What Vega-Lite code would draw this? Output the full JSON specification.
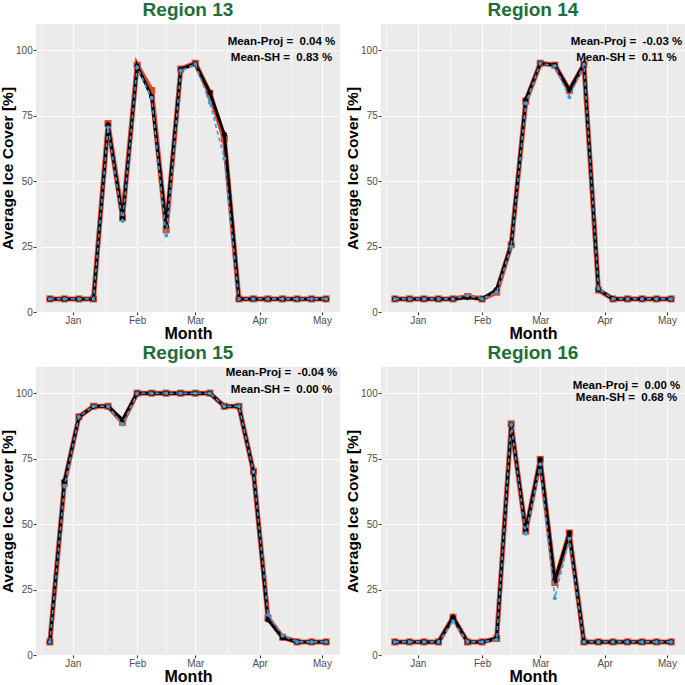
{
  "$schema": "https://vega.github.io/schema/vega-lite/v6.json",
  "background": "white",
  "padding": {"left": 0, "top": 1, "right": 0, "bottom": 0},
  "datasets": {
    "d": [
      {"region":"Region 13","kind":"s","date":"2018-12-21","proj":5,"obs":5,"sh":5},
      {"region":"Region 13","kind":"s","date":"2018-12-28","proj":5,"obs":5,"sh":5},
      {"region":"Region 13","kind":"s","date":"2019-01-04","proj":5,"obs":5,"sh":5},
      {"region":"Region 13","kind":"s","date":"2019-01-11","proj":5,"obs":5,"sh":5},
      {"region":"Region 13","kind":"s","date":"2019-01-18","proj":72,"obs":71.6,"sh":70.5},
      {"region":"Region 13","kind":"s","date":"2019-01-25","proj":36,"obs":35.8,"sh":34.8},
      {"region":"Region 13","kind":"s","date":"2019-02-01","proj":94.3,"obs":94,"sh":93.5},
      {"region":"Region 13","kind":"s","date":"2019-02-08","proj":84.6,"obs":82.3,"sh":81.8},
      {"region":"Region 13","kind":"s","date":"2019-02-15","proj":31.4,"obs":32.7,"sh":29.2},
      {"region":"Region 13","kind":"s","date":"2019-02-22","proj":92.8,"obs":92.8,"sh":92.2},
      {"region":"Region 13","kind":"s","date":"2019-03-01","proj":95,"obs":94.9,"sh":94.7},
      {"region":"Region 13","kind":"s","date":"2019-03-08","proj":83.5,"obs":83.9,"sh":80},
      {"region":"Region 13","kind":"s","date":"2019-03-15","proj":66.2,"obs":67.8,"sh":58.6},
      {"region":"Region 13","kind":"s","date":"2019-03-22","proj":5,"obs":5,"sh":5},
      {"region":"Region 13","kind":"s","date":"2019-03-29","proj":5,"obs":5,"sh":5},
      {"region":"Region 13","kind":"s","date":"2019-04-05","proj":5,"obs":5,"sh":5},
      {"region":"Region 13","kind":"s","date":"2019-04-12","proj":5,"obs":5,"sh":5},
      {"region":"Region 13","kind":"s","date":"2019-04-19","proj":5,"obs":5,"sh":5},
      {"region":"Region 13","kind":"s","date":"2019-04-26","proj":5,"obs":5,"sh":5},
      {"region":"Region 13","kind":"s","date":"2019-05-03","proj":5,"obs":5,"sh":5},
      {"region":"Region 14","kind":"s","date":"2018-12-21","proj":5,"obs":5,"sh":5},
      {"region":"Region 14","kind":"s","date":"2018-12-28","proj":5,"obs":5,"sh":5},
      {"region":"Region 14","kind":"s","date":"2019-01-04","proj":5,"obs":5,"sh":5},
      {"region":"Region 14","kind":"s","date":"2019-01-11","proj":5,"obs":5,"sh":5},
      {"region":"Region 14","kind":"s","date":"2019-01-18","proj":5,"obs":5,"sh":5},
      {"region":"Region 14","kind":"s","date":"2019-01-25","proj":5.9,"obs":5.6,"sh":6.3},
      {"region":"Region 14","kind":"s","date":"2019-02-01","proj":5,"obs":5,"sh":5},
      {"region":"Region 14","kind":"s","date":"2019-02-08","proj":7.6,"obs":8.6,"sh":7.6},
      {"region":"Region 14","kind":"s","date":"2019-02-15","proj":25.7,"obs":25.7,"sh":25},
      {"region":"Region 14","kind":"s","date":"2019-02-22","proj":80.5,"obs":81,"sh":79.7},
      {"region":"Region 14","kind":"s","date":"2019-03-01","proj":95,"obs":95,"sh":95},
      {"region":"Region 14","kind":"s","date":"2019-03-08","proj":94.3,"obs":94.3,"sh":94},
      {"region":"Region 14","kind":"s","date":"2019-03-15","proj":84.6,"obs":84.8,"sh":82},
      {"region":"Region 14","kind":"s","date":"2019-03-22","proj":94.5,"obs":94.7,"sh":94.5},
      {"region":"Region 14","kind":"s","date":"2019-03-29","proj":8.4,"obs":8.6,"sh":8.9},
      {"region":"Region 14","kind":"s","date":"2019-04-05","proj":5,"obs":5,"sh":5},
      {"region":"Region 14","kind":"s","date":"2019-04-12","proj":5,"obs":5,"sh":5},
      {"region":"Region 14","kind":"s","date":"2019-04-19","proj":5,"obs":5,"sh":5},
      {"region":"Region 14","kind":"s","date":"2019-04-26","proj":5,"obs":5,"sh":5},
      {"region":"Region 14","kind":"s","date":"2019-05-03","proj":5,"obs":5,"sh":5},
      {"region":"Region 15","kind":"s","date":"2018-12-21","proj":5,"obs":5,"sh":5},
      {"region":"Region 15","kind":"s","date":"2018-12-28","proj":65.7,"obs":66.3,"sh":64.6},
      {"region":"Region 15","kind":"s","date":"2019-01-04","proj":91,"obs":90.9,"sh":91},
      {"region":"Region 15","kind":"s","date":"2019-01-11","proj":95,"obs":95,"sh":95},
      {"region":"Region 15","kind":"s","date":"2019-01-18","proj":95,"obs":95,"sh":95},
      {"region":"Region 15","kind":"s","date":"2019-01-25","proj":88.9,"obs":89.9,"sh":88},
      {"region":"Region 15","kind":"s","date":"2019-02-01","proj":100,"obs":100,"sh":100},
      {"region":"Region 15","kind":"s","date":"2019-02-08","proj":100,"obs":100,"sh":100},
      {"region":"Region 15","kind":"s","date":"2019-02-15","proj":100,"obs":100,"sh":100},
      {"region":"Region 15","kind":"s","date":"2019-02-22","proj":100,"obs":100,"sh":100},
      {"region":"Region 15","kind":"s","date":"2019-03-01","proj":100,"obs":100,"sh":100},
      {"region":"Region 15","kind":"s","date":"2019-03-08","proj":100,"obs":100,"sh":100},
      {"region":"Region 15","kind":"s","date":"2019-03-15","proj":95,"obs":95,"sh":95},
      {"region":"Region 15","kind":"s","date":"2019-03-22","proj":95,"obs":95,"sh":95},
      {"region":"Region 15","kind":"s","date":"2019-03-29","proj":70,"obs":70,"sh":70},
      {"region":"Region 15","kind":"s","date":"2019-04-05","proj":14.1,"obs":13.5,"sh":15.4},
      {"region":"Region 15","kind":"s","date":"2019-04-12","proj":6.8,"obs":6.6,"sh":7.4},
      {"region":"Region 15","kind":"s","date":"2019-04-19","proj":5,"obs":5,"sh":5},
      {"region":"Region 15","kind":"s","date":"2019-04-26","proj":5,"obs":5,"sh":5},
      {"region":"Region 15","kind":"s","date":"2019-05-03","proj":5,"obs":5,"sh":5},
      {"region":"Region 16","kind":"s","date":"2018-12-21","proj":5,"obs":5,"sh":5},
      {"region":"Region 16","kind":"s","date":"2018-12-28","proj":5,"obs":5,"sh":5},
      {"region":"Region 16","kind":"s","date":"2019-01-04","proj":5,"obs":5,"sh":5},
      {"region":"Region 16","kind":"s","date":"2019-01-11","proj":5,"obs":5,"sh":5},
      {"region":"Region 16","kind":"s","date":"2019-01-18","proj":14.4,"obs":14.4,"sh":12.9},
      {"region":"Region 16","kind":"s","date":"2019-01-25","proj":5,"obs":5,"sh":5},
      {"region":"Region 16","kind":"s","date":"2019-02-01","proj":5,"obs":5,"sh":5},
      {"region":"Region 16","kind":"s","date":"2019-02-08","proj":6.3,"obs":6.3,"sh":5.9},
      {"region":"Region 16","kind":"s","date":"2019-02-15","proj":88.3,"obs":88,"sh":88},
      {"region":"Region 16","kind":"s","date":"2019-02-22","proj":47.3,"obs":47.6,"sh":46.3},
      {"region":"Region 16","kind":"s","date":"2019-03-01","proj":74.7,"obs":74.7,"sh":72.9},
      {"region":"Region 16","kind":"s","date":"2019-03-08","proj":27.7,"obs":28.4,"sh":21.7},
      {"region":"Region 16","kind":"s","date":"2019-03-15","proj":46.6,"obs":46.6,"sh":44.4},
      {"region":"Region 16","kind":"s","date":"2019-03-22","proj":5,"obs":5,"sh":5},
      {"region":"Region 16","kind":"s","date":"2019-03-29","proj":5,"obs":5,"sh":5},
      {"region":"Region 16","kind":"s","date":"2019-04-05","proj":5,"obs":5,"sh":5},
      {"region":"Region 16","kind":"s","date":"2019-04-12","proj":5,"obs":5,"sh":5},
      {"region":"Region 16","kind":"s","date":"2019-04-19","proj":5,"obs":5,"sh":5},
      {"region":"Region 16","kind":"s","date":"2019-04-26","proj":5,"obs":5,"sh":5},
      {"region":"Region 16","kind":"s","date":"2019-05-03","proj":5,"obs":5,"sh":5},
      {"region":"Region 13","kind":"n","date":"2019-04-11T12:00:00Z","ny":103,"label":"Mean-Proj = \u00a00.04 %"},
      {"region":"Region 13","kind":"n","date":"2019-04-11T12:00:00Z","ny":97,"label":"Mean-SH = \u00a00.83 %"},
      {"region":"Region 14","kind":"n","date":"2019-04-11T12:00:00Z","ny":103,"label":"Mean-Proj = \u00a0-0.03 %"},
      {"region":"Region 14","kind":"n","date":"2019-04-11T12:00:00Z","ny":97,"label":"Mean-SH = \u00a00.11 %"},
      {"region":"Region 15","kind":"n","date":"2019-04-11T12:00:00Z","ny":107.7,"label":"Mean-Proj = \u00a0-0.04 %"},
      {"region":"Region 15","kind":"n","date":"2019-04-11T12:00:00Z","ny":101.4,"label":"Mean-SH = \u00a00.00 %"},
      {"region":"Region 16","kind":"n","date":"2019-04-11T12:00:00Z","ny":102.8,"label":"Mean-Proj = \u00a00.00 %"},
      {"region":"Region 16","kind":"n","date":"2019-04-11T12:00:00Z","ny":98.2,"label":"Mean-SH = \u00a00.68 %"}
    ]
  },
  "data": {"name": "d"},
  "vconcat": [
    {"hconcat": [
      {"width": 304, "height": 288, "title": "Region 13",
       "transform": [{"filter": "datum.region == 'Region 13'"}],
       "encoding": {"x": {"field": "date", "type": "temporal", "title": "Month",
          "scale": {"type": "utc", "domain": [{"year": 2018, "month": 12, "date": 14, "hours": 8, "utc": true}, {"year": 2019, "month": 5, "date": 9, "hours": 16, "utc": true}]},
          "axis": {"values": [{"year": 2018, "month": 12, "date": 16, "hours": 12, "utc": true}, {"year": 2019, "month": 1, "date": 1, "utc": true}, {"year": 2019, "month": 1, "date": 16, "hours": 12, "utc": true}, {"year": 2019, "month": 2, "date": 1, "utc": true}, {"year": 2019, "month": 2, "date": 15, "utc": true}, {"year": 2019, "month": 3, "date": 1, "utc": true}, {"year": 2019, "month": 3, "date": 16, "hours": 12, "utc": true}, {"year": 2019, "month": 4, "date": 1, "utc": true}, {"year": 2019, "month": 4, "date": 16, "utc": true}, {"year": 2019, "month": 5, "date": 1, "utc": true}],
            "labelExpr": "utcdate(datum.value) == 1 ? utcFormat(datum.value, '%b') : ''",
            "gridWidth": {"condition": {"test": "utcdate(datum.value) == 1", "value": 1.1}, "value": 0.5},
            "tickOpacity": {"condition": {"test": "utcdate(datum.value) == 1", "value": 1}, "value": 0}}}},
       "layer": [
        {"transform": [{"filter": "datum.kind == 's'"}],
         "layer": [
          {"mark": {"type": "line", "color": "#E5442C", "strokeWidth": 5}, "encoding": {"y": {"field": "proj", "type": "quantitative", "title": "Average Ice Cover [%]", "scale": {"domain": [0, 110]}, "axis": {"values": [0, 12.5, 25, 37.5, 50, 62.5, 75, 87.5, 100], "labelExpr": "datum.value % 25 == 0 ? datum.label : ''", "gridWidth": {"condition": {"test": "datum.value % 25 == 0", "value": 1.1}, "value": 0.5}, "tickOpacity": {"condition": {"test": "datum.value % 25 == 0", "value": 1}, "value": 0}}}}},
          {"mark": {"type": "point", "shape": "square", "filled": true, "color": "#E5442C", "size": 50, "opacity": 1}, "encoding": {"y": {"field": "proj", "type": "quantitative"}}},
          {"mark": {"type": "line", "color": "black", "strokeWidth": 3}, "encoding": {"y": {"field": "obs", "type": "quantitative"}}},
          {"mark": {"type": "point", "shape": "circle", "filled": true, "color": "black", "size": 28, "opacity": 1}, "encoding": {"y": {"field": "obs", "type": "quantitative"}}},
          {"mark": {"type": "line", "color": "#3A9FD6", "strokeWidth": 1.6, "strokeDash": [4, 3]}, "encoding": {"y": {"field": "sh", "type": "quantitative"}}},
          {"mark": {"type": "point", "shape": "circle", "filled": true, "color": "#3A9FD6", "size": 16, "opacity": 1}, "encoding": {"y": {"field": "sh", "type": "quantitative"}}}
         ]},
        {"transform": [{"filter": "datum.kind == 'n'"}],
         "mark": {"type": "text", "font": "Liberation Sans", "fontWeight": "bold", "fontSize": 11.5, "align": "center", "baseline": "middle", "color": "black"},
         "encoding": {"y": {"field": "ny", "type": "quantitative"}, "text": {"field": "label"}}}
       ]},
      {"width": 304, "height": 288, "title": "Region 14",
       "transform": [{"filter": "datum.region == 'Region 14'"}],
       "encoding": {"x": {"field": "date", "type": "temporal", "title": "Month",
          "scale": {"type": "utc", "domain": [{"year": 2018, "month": 12, "date": 14, "hours": 8, "utc": true}, {"year": 2019, "month": 5, "date": 9, "hours": 16, "utc": true}]},
          "axis": {"values": [{"year": 2018, "month": 12, "date": 16, "hours": 12, "utc": true}, {"year": 2019, "month": 1, "date": 1, "utc": true}, {"year": 2019, "month": 1, "date": 16, "hours": 12, "utc": true}, {"year": 2019, "month": 2, "date": 1, "utc": true}, {"year": 2019, "month": 2, "date": 15, "utc": true}, {"year": 2019, "month": 3, "date": 1, "utc": true}, {"year": 2019, "month": 3, "date": 16, "hours": 12, "utc": true}, {"year": 2019, "month": 4, "date": 1, "utc": true}, {"year": 2019, "month": 4, "date": 16, "utc": true}, {"year": 2019, "month": 5, "date": 1, "utc": true}],
            "labelExpr": "utcdate(datum.value) == 1 ? utcFormat(datum.value, '%b') : ''",
            "gridWidth": {"condition": {"test": "utcdate(datum.value) == 1", "value": 1.1}, "value": 0.5},
            "tickOpacity": {"condition": {"test": "utcdate(datum.value) == 1", "value": 1}, "value": 0}}}},
       "layer": [
        {"transform": [{"filter": "datum.kind == 's'"}],
         "layer": [
          {"mark": {"type": "line", "color": "#E5442C", "strokeWidth": 5}, "encoding": {"y": {"field": "proj", "type": "quantitative", "title": "Average Ice Cover [%]", "scale": {"domain": [0, 110]}, "axis": {"values": [0, 12.5, 25, 37.5, 50, 62.5, 75, 87.5, 100], "labelExpr": "datum.value % 25 == 0 ? datum.label : ''", "gridWidth": {"condition": {"test": "datum.value % 25 == 0", "value": 1.1}, "value": 0.5}, "tickOpacity": {"condition": {"test": "datum.value % 25 == 0", "value": 1}, "value": 0}}}}},
          {"mark": {"type": "point", "shape": "square", "filled": true, "color": "#E5442C", "size": 50, "opacity": 1}, "encoding": {"y": {"field": "proj", "type": "quantitative"}}},
          {"mark": {"type": "line", "color": "black", "strokeWidth": 3}, "encoding": {"y": {"field": "obs", "type": "quantitative"}}},
          {"mark": {"type": "point", "shape": "circle", "filled": true, "color": "black", "size": 28, "opacity": 1}, "encoding": {"y": {"field": "obs", "type": "quantitative"}}},
          {"mark": {"type": "line", "color": "#3A9FD6", "strokeWidth": 1.6, "strokeDash": [4, 3]}, "encoding": {"y": {"field": "sh", "type": "quantitative"}}},
          {"mark": {"type": "point", "shape": "circle", "filled": true, "color": "#3A9FD6", "size": 16, "opacity": 1}, "encoding": {"y": {"field": "sh", "type": "quantitative"}}}
         ]},
        {"transform": [{"filter": "datum.kind == 'n'"}],
         "mark": {"type": "text", "font": "Liberation Sans", "fontWeight": "bold", "fontSize": 11.5, "align": "center", "baseline": "middle", "color": "black"},
         "encoding": {"y": {"field": "ny", "type": "quantitative"}, "text": {"field": "label"}}}
       ]}
    ]},
    {"hconcat": [
      {"width": 304, "height": 288, "title": "Region 15",
       "transform": [{"filter": "datum.region == 'Region 15'"}],
       "encoding": {"x": {"field": "date", "type": "temporal", "title": "Month",
          "scale": {"type": "utc", "domain": [{"year": 2018, "month": 12, "date": 14, "hours": 8, "utc": true}, {"year": 2019, "month": 5, "date": 9, "hours": 16, "utc": true}]},
          "axis": {"values": [{"year": 2018, "month": 12, "date": 16, "hours": 12, "utc": true}, {"year": 2019, "month": 1, "date": 1, "utc": true}, {"year": 2019, "month": 1, "date": 16, "hours": 12, "utc": true}, {"year": 2019, "month": 2, "date": 1, "utc": true}, {"year": 2019, "month": 2, "date": 15, "utc": true}, {"year": 2019, "month": 3, "date": 1, "utc": true}, {"year": 2019, "month": 3, "date": 16, "hours": 12, "utc": true}, {"year": 2019, "month": 4, "date": 1, "utc": true}, {"year": 2019, "month": 4, "date": 16, "utc": true}, {"year": 2019, "month": 5, "date": 1, "utc": true}],
            "labelExpr": "utcdate(datum.value) == 1 ? utcFormat(datum.value, '%b') : ''",
            "gridWidth": {"condition": {"test": "utcdate(datum.value) == 1", "value": 1.1}, "value": 0.5},
            "tickOpacity": {"condition": {"test": "utcdate(datum.value) == 1", "value": 1}, "value": 0}}}},
       "layer": [
        {"transform": [{"filter": "datum.kind == 's'"}],
         "layer": [
          {"mark": {"type": "line", "color": "#E5442C", "strokeWidth": 5}, "encoding": {"y": {"field": "proj", "type": "quantitative", "title": "Average Ice Cover [%]", "scale": {"domain": [0, 110]}, "axis": {"values": [0, 12.5, 25, 37.5, 50, 62.5, 75, 87.5, 100], "labelExpr": "datum.value % 25 == 0 ? datum.label : ''", "gridWidth": {"condition": {"test": "datum.value % 25 == 0", "value": 1.1}, "value": 0.5}, "tickOpacity": {"condition": {"test": "datum.value % 25 == 0", "value": 1}, "value": 0}}}}},
          {"mark": {"type": "point", "shape": "square", "filled": true, "color": "#E5442C", "size": 50, "opacity": 1}, "encoding": {"y": {"field": "proj", "type": "quantitative"}}},
          {"mark": {"type": "line", "color": "black", "strokeWidth": 3}, "encoding": {"y": {"field": "obs", "type": "quantitative"}}},
          {"mark": {"type": "point", "shape": "circle", "filled": true, "color": "black", "size": 28, "opacity": 1}, "encoding": {"y": {"field": "obs", "type": "quantitative"}}},
          {"mark": {"type": "line", "color": "#3A9FD6", "strokeWidth": 1.6, "strokeDash": [4, 3]}, "encoding": {"y": {"field": "sh", "type": "quantitative"}}},
          {"mark": {"type": "point", "shape": "circle", "filled": true, "color": "#3A9FD6", "size": 16, "opacity": 1}, "encoding": {"y": {"field": "sh", "type": "quantitative"}}}
         ]},
        {"transform": [{"filter": "datum.kind == 'n'"}],
         "mark": {"type": "text", "font": "Liberation Sans", "fontWeight": "bold", "fontSize": 11.5, "align": "center", "baseline": "middle", "color": "black"},
         "encoding": {"y": {"field": "ny", "type": "quantitative"}, "text": {"field": "label"}}}
       ]},
      {"width": 304, "height": 288, "title": "Region 16",
       "transform": [{"filter": "datum.region == 'Region 16'"}],
       "encoding": {"x": {"field": "date", "type": "temporal", "title": "Month",
          "scale": {"type": "utc", "domain": [{"year": 2018, "month": 12, "date": 14, "hours": 8, "utc": true}, {"year": 2019, "month": 5, "date": 9, "hours": 16, "utc": true}]},
          "axis": {"values": [{"year": 2018, "month": 12, "date": 16, "hours": 12, "utc": true}, {"year": 2019, "month": 1, "date": 1, "utc": true}, {"year": 2019, "month": 1, "date": 16, "hours": 12, "utc": true}, {"year": 2019, "month": 2, "date": 1, "utc": true}, {"year": 2019, "month": 2, "date": 15, "utc": true}, {"year": 2019, "month": 3, "date": 1, "utc": true}, {"year": 2019, "month": 3, "date": 16, "hours": 12, "utc": true}, {"year": 2019, "month": 4, "date": 1, "utc": true}, {"year": 2019, "month": 4, "date": 16, "utc": true}, {"year": 2019, "month": 5, "date": 1, "utc": true}],
            "labelExpr": "utcdate(datum.value) == 1 ? utcFormat(datum.value, '%b') : ''",
            "gridWidth": {"condition": {"test": "utcdate(datum.value) == 1", "value": 1.1}, "value": 0.5},
            "tickOpacity": {"condition": {"test": "utcdate(datum.value) == 1", "value": 1}, "value": 0}}}},
       "layer": [
        {"transform": [{"filter": "datum.kind == 's'"}],
         "layer": [
          {"mark": {"type": "line", "color": "#E5442C", "strokeWidth": 5}, "encoding": {"y": {"field": "proj", "type": "quantitative", "title": "Average Ice Cover [%]", "scale": {"domain": [0, 110]}, "axis": {"values": [0, 12.5, 25, 37.5, 50, 62.5, 75, 87.5, 100], "labelExpr": "datum.value % 25 == 0 ? datum.label : ''", "gridWidth": {"condition": {"test": "datum.value % 25 == 0", "value": 1.1}, "value": 0.5}, "tickOpacity": {"condition": {"test": "datum.value % 25 == 0", "value": 1}, "value": 0}}}}},
          {"mark": {"type": "point", "shape": "square", "filled": true, "color": "#E5442C", "size": 50, "opacity": 1}, "encoding": {"y": {"field": "proj", "type": "quantitative"}}},
          {"mark": {"type": "line", "color": "black", "strokeWidth": 3}, "encoding": {"y": {"field": "obs", "type": "quantitative"}}},
          {"mark": {"type": "point", "shape": "circle", "filled": true, "color": "black", "size": 28, "opacity": 1}, "encoding": {"y": {"field": "obs", "type": "quantitative"}}},
          {"mark": {"type": "line", "color": "#3A9FD6", "strokeWidth": 1.6, "strokeDash": [4, 3]}, "encoding": {"y": {"field": "sh", "type": "quantitative"}}},
          {"mark": {"type": "point", "shape": "circle", "filled": true, "color": "#3A9FD6", "size": 16, "opacity": 1}, "encoding": {"y": {"field": "sh", "type": "quantitative"}}}
         ]},
        {"transform": [{"filter": "datum.kind == 'n'"}],
         "mark": {"type": "text", "font": "Liberation Sans", "fontWeight": "bold", "fontSize": 11.5, "align": "center", "baseline": "middle", "color": "black"},
         "encoding": {"y": {"field": "ny", "type": "quantitative"}, "text": {"field": "label"}}}
       ]}
    ]}
  ],
  "spacing": 2,
  "config": {
    "concat": {"spacing": 5},
    "view": {"fill": "#EBEBEB", "stroke": null},
    "title": {"font": "Liberation Sans", "fontSize": 19, "fontWeight": "bold", "color": "#1E6E3A", "anchor": "middle", "frame": "group", "offset": 4},
    "axis": {"domain": false, "gridColor": "white", "tickColor": "#333333", "tickSize": 2.75, "labelFont": "Liberation Sans", "labelFontSize": 10, "labelColor": "#4D4D4D", "labelPadding": 1, "titleFont": "Liberation Sans", "titleFontSize": 15.5, "titleFontWeight": "bold", "titleColor": "black", "titlePadding": 0, "labelFlush": false, "labelOverlap": false},
    "axisX": {"titleFontSize": 16, "titlePadding": 0}
  }
}
